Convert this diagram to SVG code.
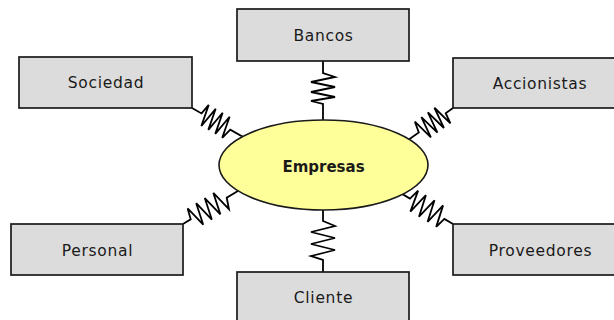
<svg xmlns="http://www.w3.org/2000/svg" width="614" height="320" viewBox="0 0 614 320">
<style>
.box{fill:#dcdcdc;stroke:#1a1a1a;stroke-width:1.7}
.lbl{font-family:"DejaVu Sans",sans-serif;font-size:15.5px;letter-spacing:0.7px;fill:#1a1a1a;text-anchor:middle}
.core{fill:#ffff99;stroke:#1a1a1a;stroke-width:1.6}
.corelbl{font-family:"DejaVu Sans",sans-serif;font-size:15px;font-weight:bold;fill:#1a1a1a;text-anchor:middle}
.spring{fill:none;stroke:#000;stroke-width:1.8;stroke-linejoin:miter}
</style>
<rect width="614" height="320" fill="#fff"/>
<g id="connectors">
<path class="spring" d="M323,61 V73 L335,77 L311,82 L335,87 L311,92 L335,97 L311,101 L323,104 V125"/>
<path class="spring" d="M323,205 V221 L335,226 L311,232 L335,238 L311,244 L335,250 L311,256 L323,260 V272"/>
<path class="spring" transform="translate(192,108) rotate(29.6)" d="M0,0 H11 L13,-11 L17,11 L21,-11 L25,11 L29,-11 L33,11 L37,-11 L41,11 L44,0 H70"/>
<path class="spring" transform="translate(453,108) rotate(144.5)" d="M0,0 H9 L11,-11 L15,11 L19,-11 L23,11 L27,-11 L31,11 L35,-11 L39,11 L42,0 H65"/>
<path class="spring" transform="translate(183,224) rotate(-31)" d="M0,0 H9 L12,-11 L17,11 L22,-11 L27,11 L32,-11 L37,11 L42,-11 L47,11 L51,0 H80"/>
<path class="spring" transform="translate(453,224) rotate(-149.4)" d="M0,0 H10 L13,-11 L18,11 L23,-11 L28,11 L33,-11 L38,11 L43,-11 L47,11 L50,0 H70"/>
</g>
<g id="empresas">
<ellipse class="core" cx="323.5" cy="165" rx="104.5" ry="45"/>
<text class="corelbl" x="323.5" y="171.5">Empresas</text>
</g>
<g id="bancos">
<rect class="box" x="237" y="9" width="172" height="52"/>
<text class="lbl" x="323.5" y="40.5">Bancos</text>
</g>
<g id="sociedad">
<rect class="box" x="19" y="57" width="173" height="51"/>
<text class="lbl" x="106" y="88">Sociedad</text>
</g>
<g id="accionistas">
<rect class="box" x="453" y="58" width="172" height="50"/>
<text class="lbl" x="540" y="88.5">Accionistas</text>
</g>
<g id="personal">
<rect class="box" x="11" y="224" width="172" height="51"/>
<text class="lbl" x="97.5" y="255.5">Personal</text>
</g>
<g id="proveedores">
<rect class="box" x="453" y="224" width="172" height="51"/>
<text class="lbl" x="540.5" y="255.5">Proveedores</text>
</g>
<g id="cliente">
<rect class="box" x="237" y="272" width="172" height="52"/>
<text class="lbl" x="323.5" y="303">Cliente</text>
</g>
</svg>
